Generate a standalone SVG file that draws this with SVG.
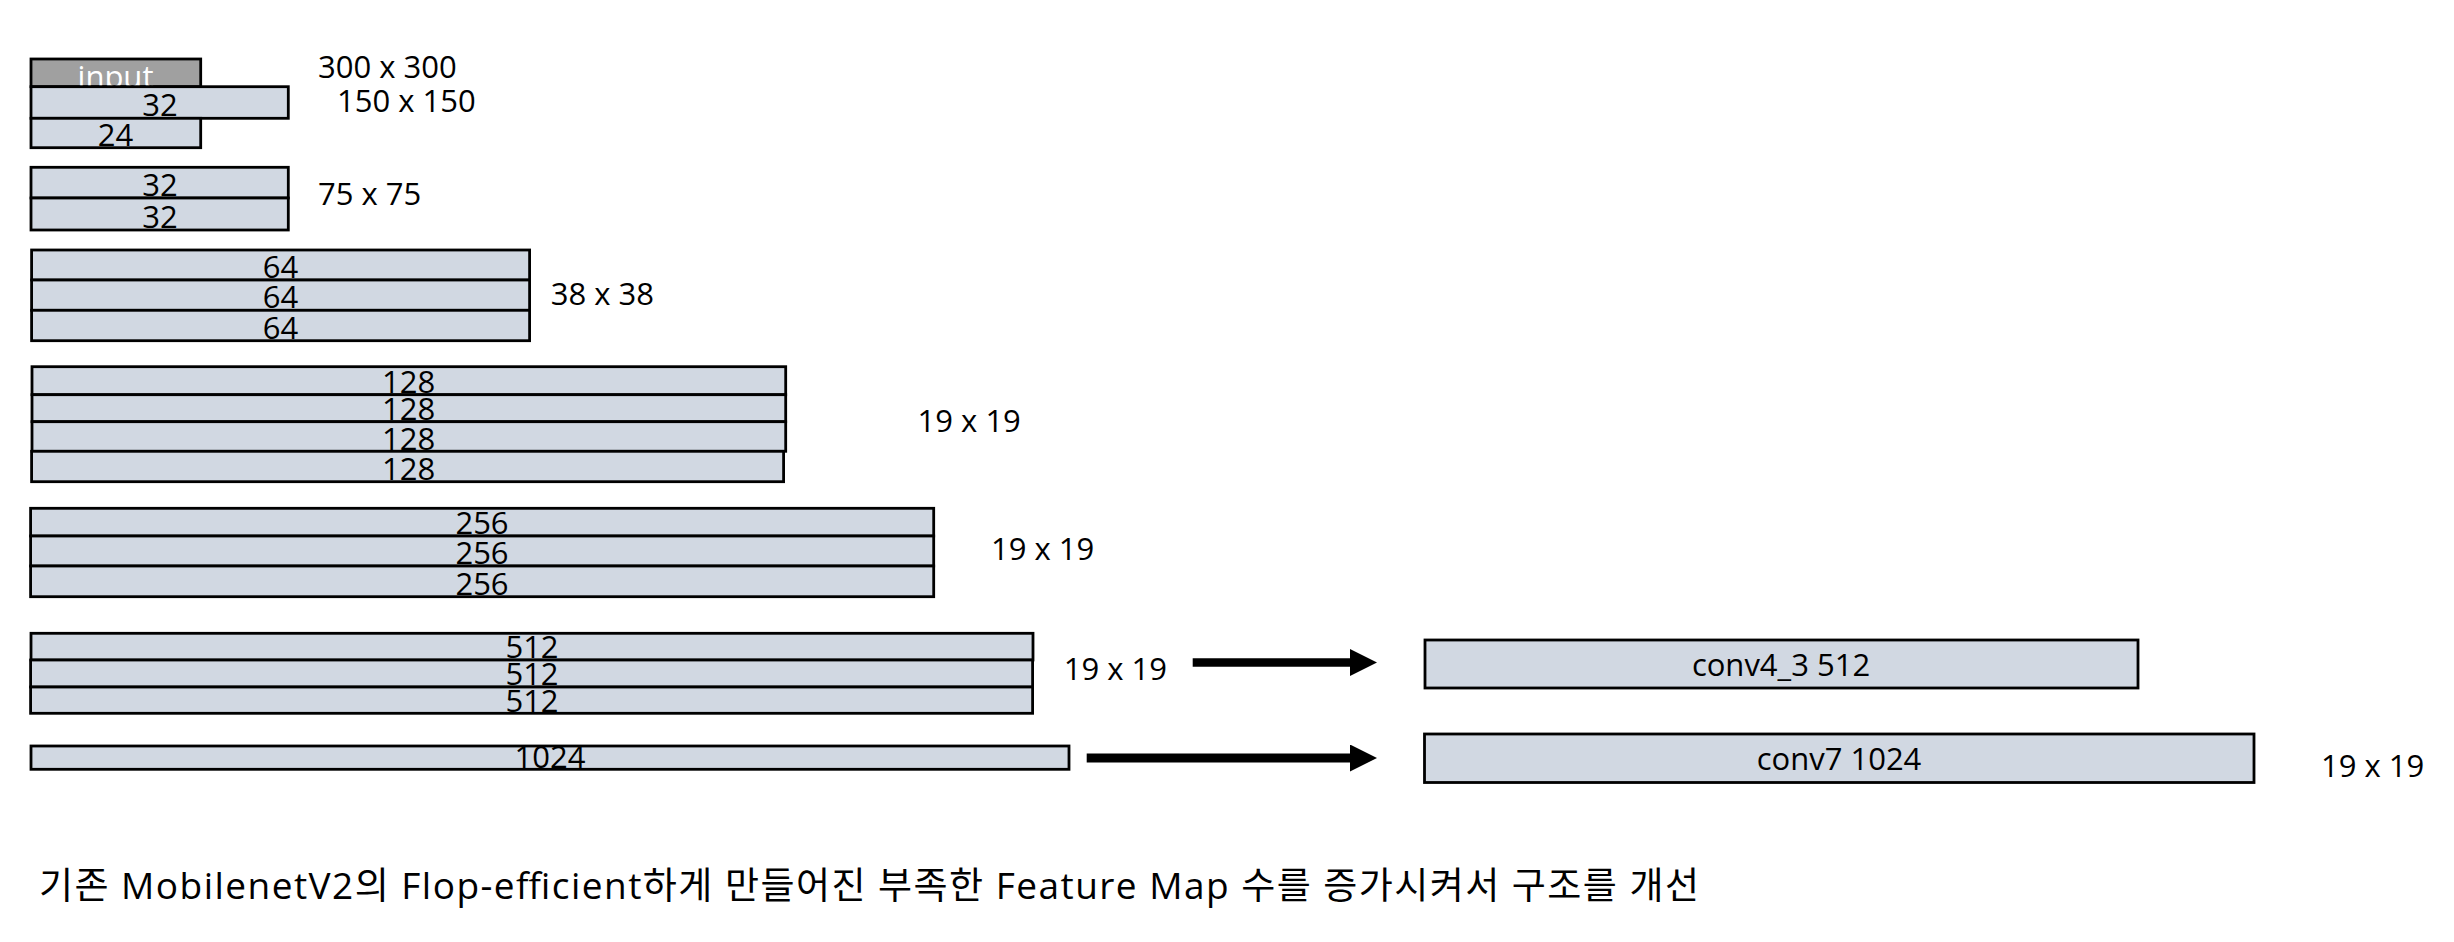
<svg xmlns="http://www.w3.org/2000/svg" width="2454" height="942" viewBox="0 0 2454 942">
<style>
.b{fill:#d1d8e2;stroke:#000;stroke-width:2.8}
.g{fill:#a0a0a0;stroke:#000;stroke-width:2.8}
.l{font-family:"Open Sans","Liberation Sans",sans-serif;font-size:31px;fill:#000;text-anchor:middle}
.w{fill:#fff}
.d{font-family:"Open Sans","Liberation Sans",sans-serif;font-size:31px;fill:#000}
.k{font-family:"Open Sans","Noto Sans CJK KR",sans-serif;font-size:37px;fill:#000}
.c{stroke:#000;fill:none}
</style>
<defs>
<marker id="ah" viewBox="0 0 27 27" refX="0" refY="13.5" markerWidth="27" markerHeight="27" markerUnits="userSpaceOnUse" orient="auto">
<path d="M0,0 L27,13.5 L0,27 z" fill="#000"/>
</marker>
</defs>
<rect width="2454" height="942" fill="#fff"/>

<g id="input">
<rect class="g" x="31" y="59" width="169.7" height="27.7"/>
<text class="l w" x="115.5" y="88">input</text>
</g>
<g id="l32a">
<rect class="b" x="31" y="86.7" width="257.3" height="31.6"/>
<text class="l" x="160" y="115.5">32</text>
</g>
<g id="l24">
<rect class="b" x="31" y="118.3" width="169.7" height="29.4"/>
<text class="l" x="115.5" y="145.5">24</text>
</g>
<text class="d" x="318" y="78">300 x 300</text>
<text class="d" x="337" y="112">150 x 150</text>

<g id="l32b">
<rect class="b" x="31" y="167.3" width="257.3" height="30.7"/>
<text class="l" x="160" y="196">32</text>
</g>
<g id="l32c">
<rect class="b" x="31" y="198" width="257.3" height="32"/>
<text class="l" x="160" y="228">32</text>
</g>
<text class="d" x="318" y="205">75 x 75</text>

<g id="l64a">
<rect class="b" x="31.6" y="250" width="498" height="30"/>
<text class="l" x="280.6" y="278">64</text>
</g>
<g id="l64b">
<rect class="b" x="31.6" y="280" width="498" height="30.3"/>
<text class="l" x="280.6" y="308">64</text>
</g>
<g id="l64c">
<rect class="b" x="31.6" y="310.3" width="498" height="30.4"/>
<text class="l" x="280.6" y="339">64</text>
</g>
<text class="d" x="550.7" y="305">38 x 38</text>

<g id="l128a">
<rect class="b" x="32" y="366.7" width="753.7" height="28"/>
<text class="l" x="408.6" y="393">128</text>
</g>
<g id="l128b">
<rect class="b" x="32" y="394.7" width="753.7" height="27"/>
<text class="l" x="408.6" y="420">128</text>
</g>
<g id="l128c">
<rect class="b" x="32" y="421.7" width="753.7" height="29.6"/>
<text class="l" x="408.6" y="449.5">128</text>
</g>
<g id="l128d">
<rect class="b" x="31.6" y="451.3" width="752" height="30.4"/>
<text class="l" x="408.6" y="480">128</text>
</g>
<text class="d" x="917.6" y="431.7">19 x 19</text>

<g id="l256a">
<rect class="b" x="30.6" y="508.3" width="903.1" height="27.7"/>
<text class="l" x="482" y="534">256</text>
</g>
<g id="l256b">
<rect class="b" x="30.6" y="536" width="903.1" height="30"/>
<text class="l" x="482" y="564">256</text>
</g>
<g id="l256c">
<rect class="b" x="30.6" y="566" width="903.1" height="30.7"/>
<text class="l" x="482" y="595">256</text>
</g>
<text class="d" x="991" y="560">19 x 19</text>

<g id="l512a">
<rect class="b" x="31" y="633.3" width="1002" height="26.7"/>
<text class="l" x="532" y="658">512</text>
</g>
<g id="l512b">
<rect class="b" x="30.6" y="660" width="1002" height="27"/>
<text class="l" x="532" y="685">512</text>
</g>
<g id="l512c">
<rect class="b" x="30.6" y="687" width="1002" height="26.3"/>
<text class="l" x="532" y="712">512</text>
</g>
<text class="d" x="1063.8" y="680">19 x 19</text>

<g id="l1024">
<rect class="b" x="31" y="746" width="1038" height="23.3"/>
<text class="l" x="550" y="768">1024</text>
</g>

<g id="conv4_3">
<rect class="b" x="1425" y="640" width="713" height="48"/>
<text class="l" x="1781" y="676">conv4_3 512</text>
</g>
<g id="conv7">
<rect class="b" x="1424.5" y="734" width="829.5" height="48.5"/>
<text class="l" x="1839" y="770">conv7 1024</text>
</g>
<text class="d" x="2321" y="776.7">19 x 19</text>

<g id="connectors">
<line class="c" x1="1192.7" y1="662.5" x2="1350" y2="662.5" stroke-width="8.4" marker-end="url(#ah)"/>
<line class="c" x1="1086.7" y1="758" x2="1350" y2="758" stroke-width="9" marker-end="url(#ah)"/>
</g>

<text class="k" x="39" y="899" textLength="1660" lengthAdjust="spacing">기존 MobilenetV2의 Flop-efficient하게 만들어진 부족한 Feature Map 수를 증가시켜서 구조를 개선</text>
</svg>
